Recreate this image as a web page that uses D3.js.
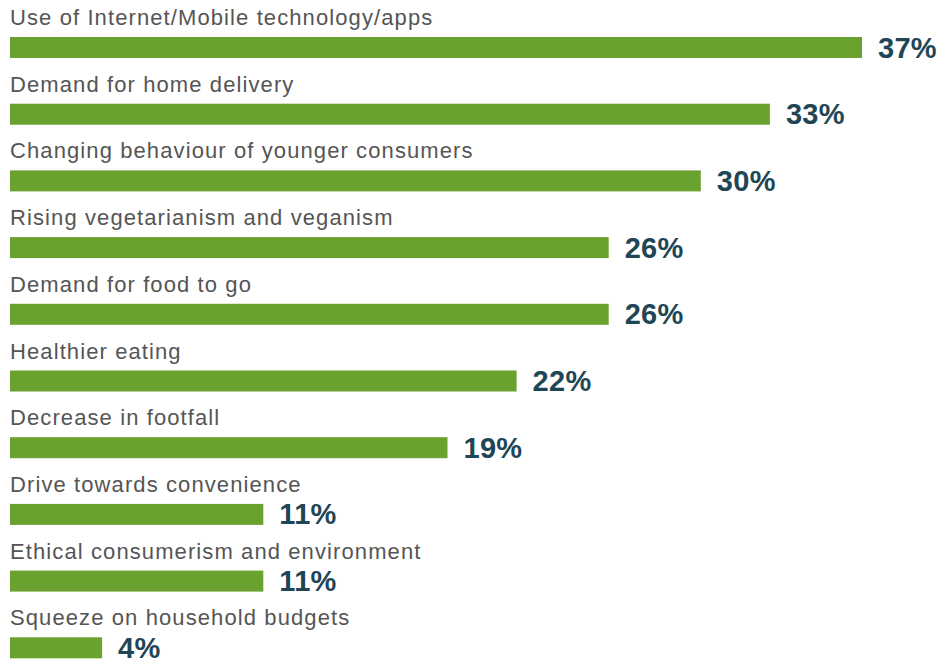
<!DOCTYPE html>
<html>
<head>
<meta charset="utf-8">
<script src="https://cdn.jsdelivr.net/npm/d3@7"></script>
<style>
	body { margin: 0; background: #fff; }
	svg { display: block; }
</style>
</head>
<body>
<script>
	var categories = [
		'Use of Internet/Mobile technology/apps',
		'Demand for home delivery',
		'Changing behaviour of younger consumers',
		'Rising vegetarianism and veganism',
		'Demand for food to go',
		'Healthier eating',
		'Decrease in footfall',
		'Drive towards convenience',
		'Ethical consumerism and environment',
		'Squeeze on household budgets'
	];
	var values = [37, 33, 30, 26, 26, 22, 19, 11, 11, 4];

	var width = 939, height = 661;
	var left = 10, firstBarTop = 37, rowStep = 66.7, barHeight = 21;

	var x = d3.scaleLinear().domain([0, 37]).range([0, 852]);
	var y = d3.scaleBand()
		.domain(categories)
		.range([firstBarTop, firstBarTop + rowStep * categories.length])
		.paddingInner(0);

	var svg = d3.select('body').append('svg')
		.attr('width', width)
		.attr('height', height);

	var rows = svg.selectAll('g.row')
		.data(categories)
		.enter().append('g')
		.attr('class', 'row')
		.attr('transform', function(d) {
			return 'translate(' + left + ',' + y(d) + ')';
		});

	// category label above each bar
	rows.append('text')
		.attr('x', 0)
		.attr('y', -12)
		.style('font-family', 'Liberation Sans, Arial, sans-serif')
		.style('font-size', '22px')
		.style('letter-spacing', '1.1px')
		.style('fill', '#555555')
		.text(function(d) { return d; });

	rows.append('rect')
		.attr('x', 0)
		.attr('y', 0)
		.attr('height', barHeight)
		.attr('width', function(d, i) { return x(values[i]); })
		.attr('fill', '#6aa22f');

	// value label right of the bar
	rows.append('text')
		.attr('x', function(d, i) { return x(values[i]) + 16; })
		.attr('y', barHeight - 0.5)
		.style('font-family', 'Liberation Sans, Arial, sans-serif')
		.style('font-size', '29px')
		.style('font-weight', 'bold')
		.style('letter-spacing', '0.3px')
		.style('fill', '#1f4655')
		.text(function(d, i) { return values[i] + '%'; });
</script>
</body>
</html>
